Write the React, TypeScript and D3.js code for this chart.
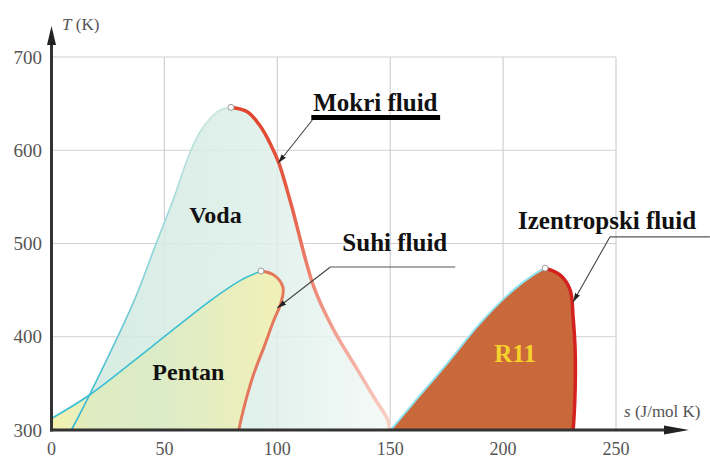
import React from 'react';
import * as d3 from 'd3';

const W = 710;
const H = 460;

const sTicks = [0, 50, 100, 150, 200, 250];
const tTicks = [300, 400, 500, 600, 700];

// Voda (water) saturation dome
const vodaLiquidS = [8.8, 16.8, 36.7, 46.4, 54.3, 60.5, 65.4, 70.7, 75.0, 79.5];
const vodaLiquidT = [300, 337.5, 439.3, 500.4, 549.6, 592.5, 618.2, 635.4, 643.5, 646];
const vodaVaporS = [79.5, 87.0, 92.8, 97.2, 100.7, 106.0, 116.2, 125.0, 135.6, 142.7, 148.9, 149.5];
const vodaVaporT = [646, 640.7, 624.6, 605.4, 586.1, 543.2, 453.2, 407.1, 364.3, 335.4, 310.7, 300];

// Pentan
const pentanLiquidS = [0.4, 16.8, 44.2, 70.7, 83.9, 92.8];
const pentanLiquidT = [312.9, 337.5, 389, 439.3, 460.7, 470.4];
const pentanVaporS = [92.8, 98.5, 102.5, 101.6, 98.5, 94.1, 89.7, 86.1, 83.9, 83.0];
const pentanVaporT = [470.4, 466.1, 453.2, 436.1, 417.9, 388.9, 361.1, 332.1, 310.7, 300];

// R11
const r11LiquidS = [150.2, 160.3, 175.4, 189.9, 204.5, 213.3, 218.6];
const r11LiquidT = [300, 328.9, 371.8, 414.6, 450, 466.1, 473.6];
const r11VaporS = [218.6, 225.3, 229.7, 231.0, 231.9, 231.9, 231.0];
const r11VaporT = [473.6, 466.1, 450, 421.1, 385.7, 342.9, 300];

// area labels
const areaNames = ['Voda', 'Pentan', 'R11'];
const areaS = [72.6, 60.6, 205.3];
const areaT = [522, 353.6, 372.9];

// annotations: text, underline, leader to the curve
const notes = ['Mokri fluid', 'Suhi fluid', 'Izentropski fluid'];
const noteS = [115.9, 128.8, 206.6];
const noteT = [642.1, 492, 515.5];
const underS0 = [115.5, 123.5, 247.3];
const underS1 = [172.1, 178.8, 291.6];
const underT = [635.1, 474.8, 507];
const tipS = [100.4, 100, 231];
const tipT = [586.3, 430.8, 437.3];

const zip = (s: number[], t: number[]) => s.map((v, i) => [v, t[i]] as [number, number]);

const serif = '"Liberation Serif", "Times New Roman", serif';

export default function App() {
  const x = d3.scaleLinear().domain([0, 250]).range([51.5, 616]);
  const y = d3.scaleLinear().domain([300, 700]).range([430, 57]);

  const line = d3
    .line<[number, number]>()
    .x((d) => x(d[0]))
    .y((d) => y(d[1]))
    .curve(d3.curveCatmullRom.alpha(0.5));

  const vodaL = zip(vodaLiquidS, vodaLiquidT);
  const vodaV = zip(vodaVaporS, vodaVaporT);
  const pentL = zip(pentanLiquidS, pentanLiquidT);
  const pentV = zip(pentanVaporS, pentanVaporT);
  const r11L = zip(r11LiquidS, r11LiquidT);
  const r11V = zip(r11VaporS, r11VaporT);

  const vodaArea = line([...vodaL, ...vodaV.slice(1)]) + 'Z';
  const pentArea = line([...pentL, ...pentV.slice(1)]) + `L${x(0)},${y(300)}Z`;
  const r11Area = line([...r11L, ...r11V.slice(1)]) + 'Z';

  const crit = [vodaL[vodaL.length - 1], pentL[pentL.length - 1], r11L[r11L.length - 1]];

  return (
    <svg
      width={W}
      height={H}
      style={{ position: 'absolute', left: 0, top: 0, background: '#fff' }}
    >
      <defs>
        <linearGradient id="vodaFill" gradientUnits="userSpaceOnUse" x1={x(10)} y1={0} x2={x(150)} y2={0}>
          <stop offset="0" stopColor="#cfe8de" />
          <stop offset="0.6" stopColor="#ddefe8" />
          <stop offset="1" stopColor="#f3f9f7" />
        </linearGradient>
        <linearGradient id="pentFill" gradientUnits="userSpaceOnUse" x1={x(0)} y1={0} x2={x(95)} y2={0}>
          <stop offset="0" stopColor="#f2ee9c" />
          <stop offset="0.2" stopColor="#dfecbc" />
          <stop offset="0.5" stopColor="#dcebc2" />
          <stop offset="1" stopColor="#f2efb0" />
        </linearGradient>
        <linearGradient id="vodaVap" gradientUnits="userSpaceOnUse" x1={0} y1={y(640)} x2={0} y2={y(300)}>
          <stop offset="0" stopColor="#e0452f" />
          <stop offset="0.3" stopColor="#e6614a" />
          <stop offset="1" stopColor="#f9d3c8" />
        </linearGradient>
        <linearGradient id="vodaLiq" gradientUnits="userSpaceOnUse" x1={0} y1={y(300)} x2={0} y2={y(640)}>
          <stop offset="0" stopColor="#2fb7d0" />
          <stop offset="0.45" stopColor="#7fcfd8" />
          <stop offset="1" stopColor="#c6e6e0" />
        </linearGradient>
        <marker id="tip" viewBox="0 0 10 6" refX="10" refY="3" markerWidth="9" markerHeight="6" markerUnits="userSpaceOnUse" orient="auto">
          <path d="M0,0L10,3L0,6Z" fill="#222" />
        </marker>
      </defs>

      {/* grid */}
      <g stroke="#d0d0d0" strokeWidth={1.2}>
        {tTicks.slice(1).map((t) => (
          <line key={'h' + t} x1={x(0)} x2={x(250)} y1={y(t)} y2={y(t)} />
        ))}
        {sTicks.slice(1).map((s) => (
          <line key={'v' + s} x1={x(s)} x2={x(s)} y1={y(300)} y2={y(700)} />
        ))}
      </g>

      {/* domes */}
      <path d={vodaArea} fill="url(#vodaFill)" opacity={0.85} />
      <path d={pentArea} fill="url(#pentFill)" opacity={0.85} />
      <path d={r11Area} fill="#c9683a" />

      <path d={line(vodaL) || ''} fill="none" stroke="url(#vodaLiq)" strokeWidth={1.6} />
      <path d={line(vodaV) || ''} fill="none" stroke="url(#vodaVap)" strokeWidth={3.5} />
      <path d={line(pentL) || ''} fill="none" stroke="#39bfd3" strokeWidth={1.6} />
      <path d={line(pentV) || ''} fill="none" stroke="#e4785c" strokeWidth={3} />
      <path d={line(r11L) || ''} fill="none" stroke="#8fe2f0" strokeWidth={2} />
      <path d={line(r11V) || ''} fill="none" stroke="#d4221e" strokeWidth={3.5} />

      {crit.map((c, i) => (
        <circle key={i} cx={x(c[0])} cy={y(c[1])} r={3} fill="#fff" stroke="#9a9a9a" strokeWidth={1} />
      ))}

      {/* area labels */}
      {areaNames.map((n, i) => (
        <text
          key={n}
          x={x(areaS[i])}
          y={y(areaT[i])}
          textAnchor="middle"
          fontFamily={serif}
          fontWeight="bold"
          fontSize={n === 'R11' ? 25 : 24}
          fill={n === 'R11' ? '#f6d22c' : '#111'}
        >
          {n}
        </text>
      ))}

      {/* annotations */}
      {notes.map((n, i) => (
        <g key={n}>
          <text x={x(noteS[i])} y={y(noteT[i])} fontFamily={serif} fontWeight="bold" fontSize={25} fill="#111">
            {n}
          </text>
          {i === 0 ? (
            <line x1={x(underS0[i]) - 1} x2={x(underS1[i])} y1={y(underT[i])} y2={y(underT[i])} stroke="#000" strokeWidth={5} />
          ) : (
            <line x1={x(underS0[i])} x2={x(underS1[i])} y1={y(underT[i])} y2={y(underT[i])} stroke="#555" strokeWidth={1.2} />
          )}
          <line
            x1={x(underS0[i])}
            y1={y(underT[i]) + (i === 0 ? 2.5 : 0)}
            x2={x(tipS[i])}
            y2={y(tipT[i])}
            stroke="#444"
            strokeWidth={1.1}
            markerEnd="url(#tip)"
          />
        </g>
      ))}

      {/* axes */}
      <line x1={x(0) - 1.5} x2={666} y1={y(300)} y2={y(300)} stroke="#333" strokeWidth={3} />
      <path d={`M664,${y(300) - 4.5}L689,${y(300)}L664,${y(300) + 4.5}Z`} fill="#222" />
      <line x1={x(0)} x2={x(0)} y1={y(300) + 1.5} y2={44} stroke="#333" strokeWidth={3} />
      <path d={`M${x(0) - 4.5},45L${x(0)},26L${x(0) + 4.5},45Z`} fill="#222" />

      {/* tick labels */}
      {tTicks.map((t) => (
        <text key={'yt' + t} x={42} y={y(t) + 6.5} textAnchor="end" fontFamily={serif} fontSize={19} fill="#555">
          {t}
        </text>
      ))}
      {sTicks.map((s) => (
        <text key={'xt' + s} x={x(s)} y={455} textAnchor="middle" fontFamily={serif} fontSize={18} fill="#555">
          {s}
        </text>
      ))}

      <text x={62} y={30} fontFamily={serif} fontSize={17} fill="#555">
        <tspan fontStyle="italic">T</tspan> (K)
      </text>
      <text x={624} y={417} fontFamily={serif} fontSize={17} fill="#555">
        <tspan fontStyle="italic">s</tspan> (J/mol K)
      </text>
    </svg>
  );
}
